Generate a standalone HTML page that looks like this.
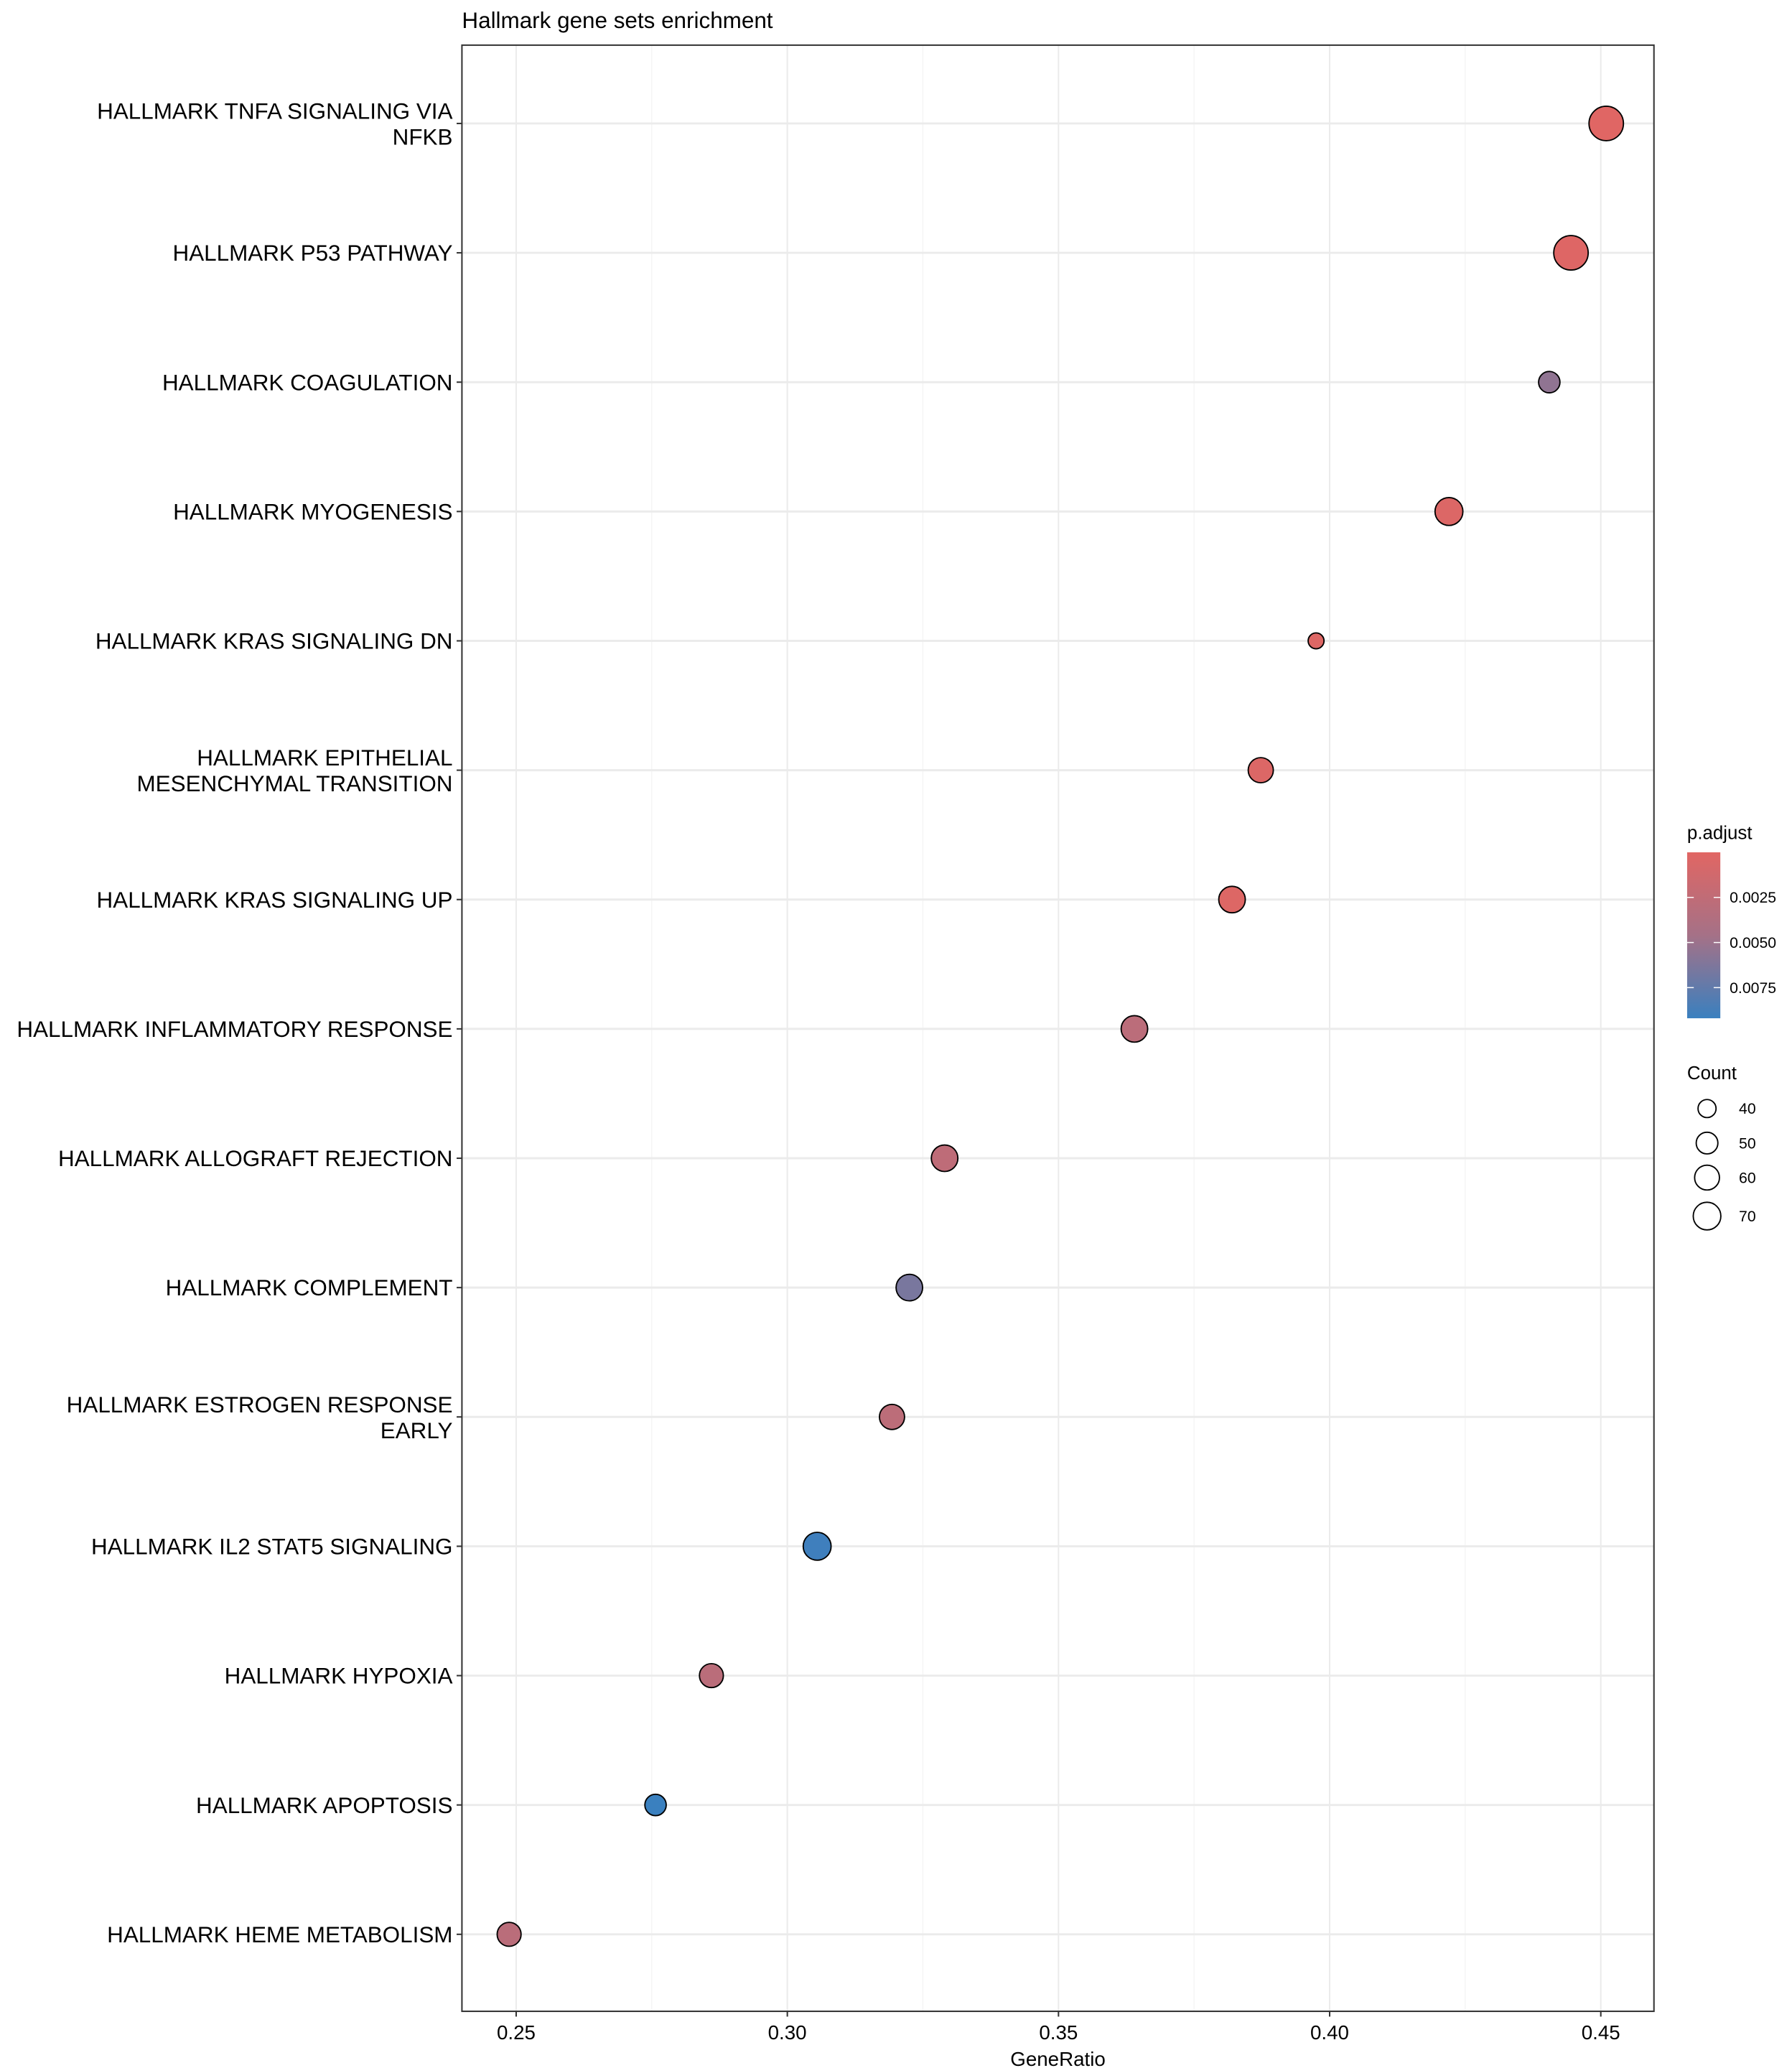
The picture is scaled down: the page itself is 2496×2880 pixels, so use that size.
<!DOCTYPE html>
<html><head><meta charset="utf-8">
<style>
html,body{margin:0;padding:0;background:#fff;}
svg{display:block;font-family:"Liberation Sans",Arial,sans-serif;}
</style></head>
<body>
<svg id="chart" width="2496" height="2880" viewBox="0 0 1350 1557.7" preserveAspectRatio="none" xmlns="http://www.w3.org/2000/svg">
<defs>
<linearGradient id="padjGrad" x1="0" y1="0" x2="0" y2="1">
<stop offset="0" stop-color="#E16663"/>
<stop offset="0.5" stop-color="#A57187"/>
<stop offset="1" stop-color="#3A80BF"/>
</linearGradient>
</defs>
<text x="348" y="21" font-size="17" fill="#000">Hallmark gene sets enrichment</text>
<rect x="348" y="34" width="898" height="1481" fill="#fff" stroke="none"/>
<g id="grid"></g>
<g id="points"></g>
<rect x="348" y="34" width="898" height="1481" fill="none" stroke="#333" stroke-width="1.1"/>
<g id="yaxis"></g>
<g id="xaxis"></g>
<text x="797" y="1556" font-size="15" text-anchor="middle">GeneRatio</text>
<g id="legend">
<text x="1271" y="632" font-size="14">p.adjust</text>
<rect x="1271" y="642" width="25" height="125" fill="url(#padjGrad)"/>
<g id="cticks"></g>
<text x="1271" y="813" font-size="14">Count</text>
<g id="sizeleg"></g>
</g>
</svg>
<script>
const categories = ["HALLMARK TNFA SIGNALING VIA|NFKB","HALLMARK P53 PATHWAY","HALLMARK COAGULATION","HALLMARK MYOGENESIS","HALLMARK KRAS SIGNALING DN","HALLMARK EPITHELIAL|MESENCHYMAL TRANSITION","HALLMARK KRAS SIGNALING UP","HALLMARK INFLAMMATORY RESPONSE","HALLMARK ALLOGRAFT REJECTION","HALLMARK COMPLEMENT","HALLMARK ESTROGEN RESPONSE|EARLY","HALLMARK IL2 STAT5 SIGNALING","HALLMARK HYPOXIA","HALLMARK APOPTOSIS","HALLMARK HEME METABOLISM"];
const geneRatio = [0.451,0.4445,0.4405,0.422,0.3975,0.3873,0.382,0.364,0.329,0.3225,0.3193,0.3055,0.286,0.2757,0.2487];
const counts = [99,99,49,71,35,61,66,66,66,66,61,71,57,49,57];
const padj = [0.0001,0.0002,0.0055,0.0004,0.0003,0.0004,0.0003,0.0029,0.0027,0.0065,0.0028,0.0090,0.0030,0.0092,0.0030];
const xTicks = [0.25,0.30,0.35,0.40,0.45];
const xTickLabels = ["0.25","0.30","0.35","0.40","0.45"];
const colorTicks = [0.0025,0.0050,0.0075];
const colorTickLabels = ["0.0025","0.0050","0.0075"];
const sizeLegendCounts = [40,50,60,70];

const NS="http://www.w3.org/2000/svg";
function mk(t,a,p){const e=document.createElementNS(NS,t);for(const k in a)e.setAttribute(k,a[k]);p.appendChild(e);return e;}
const X0=348,X1=1246,Y0=34,Y1=1515;
const xmin=0.24,xmax=0.4598;
function xs(v){return X0+(v-xmin)/(xmax-xmin)*(X1-X0);}
function ys(i){return 93+i*(1457-93)/(categories.length-1);}
function rs(c){return Math.sqrt(Math.max(4,-36.7+2.07*c));}
const pmin=0,pmax=0.0092;
function cs(p){
  const t=Math.min(1,Math.max(0,(p-pmin)/(pmax-pmin)));
  const a=[225,102,99],m=[165,113,135],b=[58,128,191];
  let c;
  if(t<0.5){const u=t/0.5;c=a.map((v,i)=>Math.round(v+(m[i]-v)*u));}
  else{const u=(t-0.5)/0.5;c=m.map((v,i)=>Math.round(v+(b[i]-v)*u));}
  return "rgb("+c.join(",")+")";
}
const grid=document.getElementById('grid');
for(let k=0;k<xTicks.length;k++){
  const l=mk('line',{x1:xs(xTicks[k]),x2:xs(xTicks[k]),y1:Y0,y2:Y1,stroke:'#EBEBEB','stroke-width':1.1},grid);
  
  
  if(k<xTicks.length-1){
    const mv=(xTicks[k]+xTicks[k+1])/2;
    const l2=mk('line',{x1:xs(mv),x2:xs(mv),y1:Y0,y2:Y1,stroke:'#F2F2F2','stroke-width':0.6},grid);
    
    
  }
}
const m0=(xTicks[0]-0.025);
if(m0>xmin){const l3=mk('line',{x1:xs(m0),x2:xs(m0),y1:Y0,y2:Y1,stroke:'#F2F2F2','stroke-width':0.6},grid);

}
categories.forEach((c,i)=>{
  const l=mk('line',{x1:X0,x2:X1,y1:ys(i),y2:ys(i),stroke:'#EBEBEB','stroke-width':1.6},grid);
  
  
});
const pts=document.getElementById('points');
categories.forEach((c,i)=>{
  const e=mk('circle',{cx:xs(geneRatio[i]),cy:ys(i),r:rs(counts[i]),fill:cs(padj[i]),stroke:'#000','stroke-width':1},pts);
  
  
});
const ya=document.getElementById('yaxis');
categories.forEach((c,i)=>{
  const y=ys(i);
  const tk=mk('line',{x1:X0-4,x2:X0,y1:y,y2:y,stroke:'#333','stroke-width':1.1},ya);
  
  
  const parts=c.split('|');
  const t=mk('text',{x:X0-7,'text-anchor':'end','font-size':17,fill:'#000'},ya);
  
  
  parts.forEach((p,j)=>{
    const off=parts.length===1?6:(j===0?-3.5:16);
    const s=mk('tspan',{x:X0-7,y:y+off},t);
    s.textContent=p;
  });
});
const xa=document.getElementById('xaxis');
xTicks.forEach((v,k)=>{
  const tk=mk('line',{x1:xs(v),x2:xs(v),y1:Y1,y2:Y1+4,stroke:'#333','stroke-width':1.1},xa);
  
  
  const t=mk('text',{x:xs(v),y:Y1+21,'text-anchor':'middle','font-size':15},xa);
  t.textContent=xTickLabels[k];
  
  
});
const ct=document.getElementById('cticks');
function cy(p){return 642+(p-pmin)/(pmax-pmin)*125;}
colorTicks.forEach((p,k)=>{
  const y=cy(p);
  const a=mk('line',{x1:1271,x2:1276,y1:y,y2:y,stroke:'#fff','stroke-width':0.8},ct);
  
  
  const b=mk('line',{x1:1291,x2:1296,y1:y,y2:y,stroke:'#fff','stroke-width':0.8},ct);
  
  
  const t=mk('text',{x:1303,y:y+4,'font-size':11.5},ct);
  t.textContent=colorTickLabels[k];
  
  
});
const sl=document.getElementById('sizeleg');
sizeLegendCounts.forEach((c,k)=>{
  const r=rs(c);
  const cyv = [835,861,887,916][k];
  const e=mk('circle',{cx:1286,cy:cyv,r:r,fill:'none',stroke:'#000','stroke-width':1},sl);
  
  
  const t=mk('text',{x:1310,y:cyv+4,'font-size':11.5},sl);
  t.textContent=String(c);
  
  
});
</script>
</body></html>
